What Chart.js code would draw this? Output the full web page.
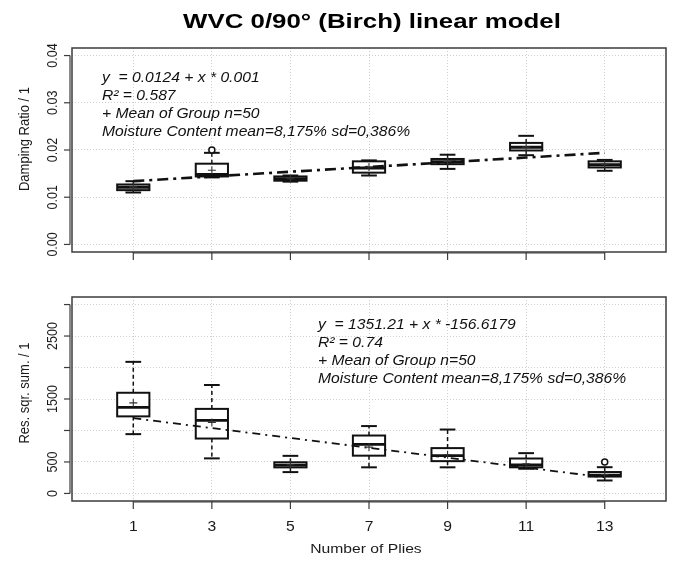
<!DOCTYPE html>
<html><head><meta charset="utf-8">
<script src="https://cdn.jsdelivr.net/npm/chart.js@4.4.1/dist/chart.umd.min.js"></script>
<style>
html,body{margin:0;padding:0;background:#fff;width:676px;height:565px;overflow:hidden}
canvas{position:absolute;left:0}
#c1{top:0}
#c2{top:270px}
</style></head><body>
<canvas id="c1" width="676" height="270"></canvas>
<canvas id="c2" width="676" height="295"></canvas>
<script>
// ---------- data ----------
const plies = [1, 3, 5, 7, 9, 11, 13];
const xTickLabels = ['1', '3', '5', '7', '9', '11', '13'];

const chartTitle = 'WVC 0/90° (Birch) linear model';
const xTitle = 'Number of Plies';

// top panel: damping ratio
const dampMin  = [0.0110, 0.0142, 0.0133, 0.0146, 0.0160, 0.0189, 0.0156];
const dampQ1   = [0.0115, 0.0144, 0.0135, 0.0152, 0.0170, 0.0199, 0.0163];
const dampMed  = [0.0121, 0.0148, 0.0139, 0.0162, 0.0175, 0.0206, 0.0169];
const dampQ3   = [0.0127, 0.0171, 0.0144, 0.0176, 0.0181, 0.0215, 0.0176];
const dampMax  = [0.0134, 0.0194, 0.0146, 0.0178, 0.0190, 0.0230, 0.0179];
const dampMean = [0.0122, 0.0157, 0.0139, 0.0164, 0.0176, 0.0206, 0.0170];
const dampOutX = [3];
const dampOutY = [0.0200];
const dampFit  = [0.0134, 0.0144, 0.0154, 0.0164, 0.0174, 0.0184, 0.0194];
const dampTicks = [0, 0.01, 0.02, 0.03, 0.04];
const dampTickLabels = ['0.00', '0.01', '0.02', '0.03', '0.04'];
const dampYTitle = 'Damping Ratio / 1';
const dampNotes = ['y  = 0.0124 + x * 0.001', 'R² = 0.587', '+ Mean of Group n=50',
                   'Moisture Content mean=8,175% sd=0,386%'];

// bottom panel: residual square sum
const rssMin  = [942, 557, 339, 415, 415, 392, 206];
const rssQ1   = [1224, 872, 414, 600, 513, 415, 268];
const rssMed  = [1368, 1160, 451, 780, 600, 455, 290];
const rssQ3   = [1599, 1343, 495, 920, 720, 555, 340];
const rssMax  = [2090, 1722, 597, 1070, 1015, 640, 417];
const rssMean = [1439, 1128, 455, 735, 614, 470, 300];
const rssOutX = [13];
const rssOutY = [500];
const rssFit  = [1194.6, 1038.0, 881.4, 724.7, 568.1, 411.5, 254.9];
const rssTicks = [0, 500, 1000, 1500, 2000, 2500, 3000];
const rssTickLabels = ['0', '500', '', '1500', '', '2500', ''];
const rssYTitle = 'Res. sqr. sum. / 1';
const rssNotes = ['y  = 1351.21 + x * -156.6179', 'R² = 0.74', '+ Mean of Group n=50',
                  'Moisture Content mean=8,175% sd=0,386%'];

// ---------- style ----------
const FONT = '"Liberation Sans", Arial, Helvetica, sans-serif';
const INK = '#111';
const BOX_HALF = 0.41, CAP_HALF = 0.2;

function txt(ctx, s, x, y, o) {
  ctx.save();
  ctx.translate(x, y);
  ctx.scale(o.sx || 1, 1);
  if (o.rot) ctx.rotate(o.rot);
  ctx.font = (o.italic ? 'italic ' : '') + (o.bold ? 'bold ' : '') + o.size + 'px ' + FONT;
  ctx.fillStyle = o.color || INK;
  ctx.textAlign = o.align || 'left';
  ctx.textBaseline = o.base || 'alphabetic';
  ctx.fillText(s, 0, 0);
  ctx.restore();
}
function seg(ctx, x1, y1, x2, y2) { ctx.beginPath(); ctx.moveTo(x1, y1); ctx.lineTo(x2, y2); ctx.stroke(); }

function boxPlugin(st, sty) {
  return {
    id: 'boxes',
    beforeDatasetsDraw(chart) {
      const { ctx, scales: { x, y } } = chart;
      ctx.save();
      ctx.strokeStyle = INK;
      for (let i = 0; i < plies.length; i++) {
        const cx = x.getPixelForValue(plies[i]);
        const hw = x.getPixelForValue(plies[i] + BOX_HALF) - cx;
        const cw = x.getPixelForValue(plies[i] + CAP_HALF) - cx;
        const yMin = y.getPixelForValue(st.min[i]), yQ1 = y.getPixelForValue(st.q1[i]);
        const yMed = y.getPixelForValue(st.med[i]), yQ3 = y.getPixelForValue(st.q3[i]);
        const yMax = y.getPixelForValue(st.max[i]);
        ctx.lineWidth = sty.whisker; ctx.setLineDash(sty.wdash);
        seg(ctx, cx, yQ3, cx, yMax); seg(ctx, cx, yQ1, cx, yMin);
        ctx.setLineDash([]);
        ctx.lineWidth = sty.cap;
        seg(ctx, cx - cw, yMax, cx + cw, yMax); seg(ctx, cx - cw, yMin, cx + cw, yMin);
        ctx.fillStyle = '#fff';
        ctx.fillRect(cx - hw, yQ3, 2 * hw, yQ1 - yQ3);
        ctx.lineWidth = sty.box;
        ctx.strokeRect(cx - hw, yQ3, 2 * hw, yQ1 - yQ3);
        ctx.lineWidth = sty.med;
        seg(ctx, cx - hw, yMed, cx + hw, yMed);
      }
      ctx.restore();
    }
  };
}

function framePlugin(cfg) {
  return {
    id: 'frame',
    afterDraw(chart) {
      const { ctx, chartArea: a, scales: { x, y } } = chart;
      ctx.save();
      ctx.strokeStyle = '#3c3c3c';
      ctx.lineWidth = 1.5;
      ctx.strokeRect(a.left, a.top, a.right - a.left, a.bottom - a.top);
      ctx.lineWidth = 1.2;
      const ys = cfg.yTicks.map(v => y.getPixelForValue(v));
      seg(ctx, a.left - 2, ys[0], a.left - 2, ys[ys.length - 1]);
      ys.forEach(py => seg(ctx, a.left - 8, py, a.left - 2, py));
      const xs = plies.map(v => x.getPixelForValue(v));
      seg(ctx, xs[0], a.bottom + 1, xs[xs.length - 1], a.bottom + 1);
      xs.forEach(px => seg(ctx, px, a.bottom, px, a.bottom + 8));
      ctx.restore();
      cfg.yTicks.forEach((v, i) => {
        if (cfg.yLabels[i]) txt(ctx, cfg.yLabels[i], 57, y.getPixelForValue(v),
          { size: 12.5, sx: 1.15, rot: -Math.PI / 2, align: 'center', color: '#1a1a1a' });
      });
      txt(ctx, cfg.yTitle, 29, cfg.yTitleY, { size: 13, sx: 1.15, rot: -Math.PI / 2, align: 'center', color: '#1a1a1a' });
      cfg.notes.forEach((s, i) => txt(ctx, s, cfg.noteX, cfg.noteY[i], { size: 14.5, sx: 1.08, italic: true }));
      if (cfg.title) txt(ctx, cfg.title, 372, 28, { size: 20.5, sx: 1.26, bold: true, align: 'center', color: '#000' });
      if (cfg.xLabels) {
        plies.forEach((p, i) => txt(ctx, xTickLabels[i], x.getPixelForValue(p), cfg.xLabelY,
          { size: 14, sx: 1.12, align: 'center', color: '#1a1a1a' }));
        txt(ctx, xTitle, 366, cfg.xTitleY, { size: 13.5, sx: 1.16, align: 'center', color: '#1a1a1a' });
      }
    }
  };
}

function makeChart(id, p) {
  return new Chart(document.getElementById(id), {
    type: 'scatter',
    data: {
      datasets: [
        { data: p.outX.map((v, i) => ({ x: v, y: p.outY[i] })), pointStyle: 'circle', pointRadius: 3,
          borderColor: INK, borderWidth: 1.5, backgroundColor: '#fff' },
        { data: plies.map((v, i) => ({ x: v, y: p.mean[i] })), pointStyle: 'cross', pointRadius: 4,
          borderColor: '#333', borderWidth: 1.1 },
        { data: plies.map((v, i) => ({ x: v, y: p.fit[i] })), showLine: true, pointRadius: 0,
          borderColor: INK, borderWidth: p.fitW, borderDash: p.fitDash, fill: false }
      ]
    },
    options: {
      responsive: false, animation: false, events: [],
      layout: { padding: p.pad },
      plugins: { legend: { display: false }, tooltip: { enabled: false } },
      scales: {
        x: {
          type: 'linear', min: -0.56, max: 14.56,
          afterBuildTicks: s => { s.ticks = plies.map(v => ({ value: v })); },
          afterFit: s => { s.height = 0; },
          ticks: { display: false },
          grid: { color: '#cfcfcf', lineWidth: 1, drawTicks: false },
          border: { display: false, dash: [1, 2] }
        },
        y: {
          type: 'linear', min: p.ymin, max: p.ymax,
          afterBuildTicks: s => { s.ticks = p.yTicks.map(v => ({ value: v })); },
          afterFit: s => { s.width = 0; },
          ticks: { display: false },
          grid: { color: '#cfcfcf', lineWidth: 1, drawTicks: false },
          border: { display: false, dash: [1, 2] }
        }
      }
    },
    plugins: [boxPlugin(p.st, p.sty), framePlugin(p.frame)]
  });
}

makeChart('c1', {
  st: { min: dampMin, q1: dampQ1, med: dampMed, q3: dampQ3, max: dampMax },
  sty: { whisker: 1.4, wdash: [4, 3], cap: 2, box: 2, med: 3 },
  mean: dampMean, outX: dampOutX, outY: dampOutY, fit: dampFit,
  fitW: 2.6, fitDash: [11, 5, 3, 5],
  ymin: -0.0016, ymax: 0.0416, yTicks: dampTicks,
  pad: { left: 72, right: 10, top: 48, bottom: 18 },
  frame: { yTicks: dampTicks, yLabels: dampTickLabels, yTitle: dampYTitle, yTitleY: 139,
           notes: dampNotes, noteX: 102, noteY: [82, 100, 118, 136], title: chartTitle }
});

makeChart('c2', {
  st: { min: rssMin, q1: rssQ1, med: rssMed, q3: rssQ3, max: rssMax },
  sty: { whisker: 1.5, wdash: [4, 3], cap: 2, box: 2, med: 2.8 },
  mean: rssMean, outX: rssOutX, outY: rssOutY, fit: rssFit,
  fitW: 1.8, fitDash: [8, 5, 2, 5],
  ymin: -120, ymax: 3120, yTicks: rssTicks,
  pad: { left: 72, right: 10, top: 27, bottom: 64 },
  frame: { yTicks: rssTicks, yLabels: rssTickLabels, yTitle: rssYTitle, yTitleY: 123,
           notes: rssNotes, noteX: 318, noteY: [59, 77, 95, 113],
           xLabels: true, xLabelY: 261, xTitleY: 283 }
});
</script>
</body></html>
